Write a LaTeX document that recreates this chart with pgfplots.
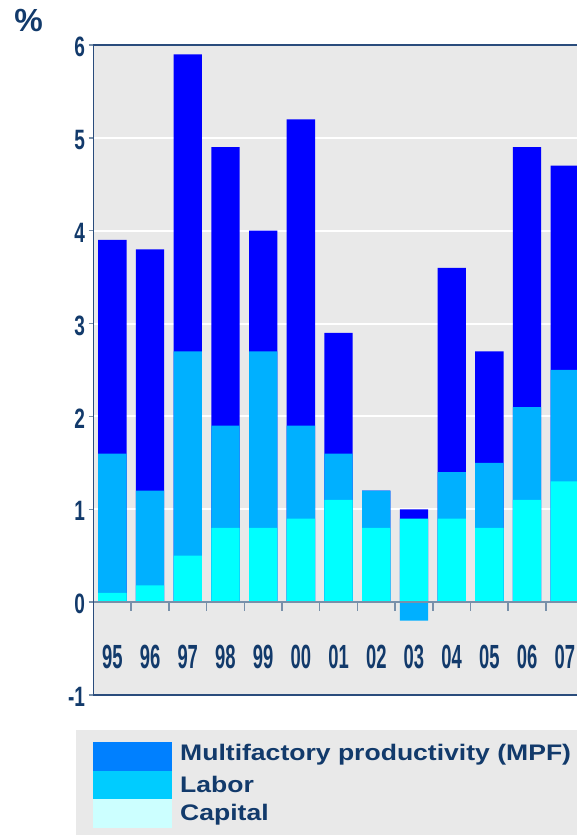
\documentclass[border=0pt]{standalone}
\usepackage{fontspec}
\usepackage{pgfplots}
\usepackage{pgfplotstable}
\pgfplotsset{compat=1.18}
\setmainfont{Liberation Sans}
\newfontfamily\ytf[FakeStretch=0.68]{Liberation Sans}
\newfontfamily\xtf[FakeStretch=0.55]{Liberation Sans}
\newfontfamily\legf[FakeStretch=1.18]{Liberation Sans}
\definecolor{bgc}{HTML}{E9E9E9}
\definecolor{slate}{HTML}{7890AA}
\definecolor{navyline}{HTML}{2A4C7C}
\definecolor{txt}{HTML}{123A6B}
\definecolor{cmpf}{HTML}{0000FF}
\definecolor{clab}{HTML}{00B0FF}
\definecolor{ccap}{HTML}{00FFFF}
\definecolor{lmpf}{HTML}{0080FF}
\definecolor{llab}{HTML}{00CCFF}
\definecolor{lcap}{HTML}{CCFFFF}
\pgfplotstableread{
x total labcum cap
0  3.9  1.6  0.1
1  3.8  1.2  0.18
2  5.9  2.7  0.5
3  4.9  1.9  0.8
4  4.0  2.7  0.8
5  5.2  1.9  0.9
6  2.9  1.6  1.1
7  1.2  1.2  0.8
8  1.0  -0.2 0.9
9  3.6  1.4  0.9
10 2.7  1.5  0.8
11 4.9  2.1  1.1
12 4.7  2.5  1.3
}\data
\begin{document}
\begin{tikzpicture}
\useasboundingbox (0,0) rectangle (577pt,835pt);
\clip (0,0) rectangle (577pt,835pt);
\fill[bgc] (76pt,0) rectangle (577pt,105pt);
\node[font=\bfseries\fontsize{32}{34}\selectfont, text=txt] at (28.5pt,814pt) {\%};
\begin{axis}[
  at={(93.5pt,140pt)}, anchor=south west,
  scale only axis, width=490.1pt, height=650pt,
  xmin=-0.5, xmax=12.5, ymin=-1, ymax=6,
  enlargelimits=false,
  axis background/.style={fill=bgc},
  x axis line style={slate, line width=2pt},
  y axis line style={navyline, line width=1.8pt},
  ymajorgrids, major grid style={white, line width=2pt},
  ytick={-1,0,...,6}, ytick pos=left,
  tick align=outside, major tick length=5pt,
  ytick style={slate, line width=1.5pt},
  /pgf/number format/assume math mode=true,
  yticklabel style={font=\ytf\bfseries\fontsize{28}{30}\selectfont, text=txt, yshift=-2pt},
  xtick={0,...,12},
  xticklabels={95,96,97,98,99,00,01,02,03,04,05,06,07},
  xtick style={draw=none},
  xticklabel style={font=\xtf\bfseries\fontsize{33.5}{36}\selectfont, text=txt, anchor=center, yshift=43pt},
  ybar, bar width=28.3pt,
]
\addplot[fill=cmpf, draw=none, bar shift=0pt] table[x=x, y=total] {\data};
\addplot[fill=clab, draw=none, bar shift=0pt] table[x=x, y=labcum] {\data};
\addplot[fill=ccap, draw=none, bar shift=0pt] table[x=x, y=cap] {\data};
\draw[slate, line width=2pt] (axis cs:-0.5,0) -- (axis cs:12.5,0);
\pgfplotsinvokeforeach{0.5,1.5,...,12.5}{\draw[slate, line width=1.5pt] (axis cs:#1,0) -- ([yshift=-9pt]axis cs:#1,0);}
\end{axis}
\fill[lmpf] (93pt,93pt) rectangle (172pt,64pt);
\fill[llab] (93pt,64pt) rectangle (172pt,36pt);
\fill[lcap] (93pt,36pt) rectangle (172pt,7pt);
\begin{scope}[every node/.style={font=\legf\bfseries\fontsize{22.5}{24}\selectfont, text=txt, anchor=base west, inner sep=0pt}]
\node at (180pt,74pt) {Multifactory productivity (MPF)};
\node at (180pt,42pt) {Labor};
\node at (180pt,14pt) {Capital};
\end{scope}
\end{tikzpicture}
\end{document}
